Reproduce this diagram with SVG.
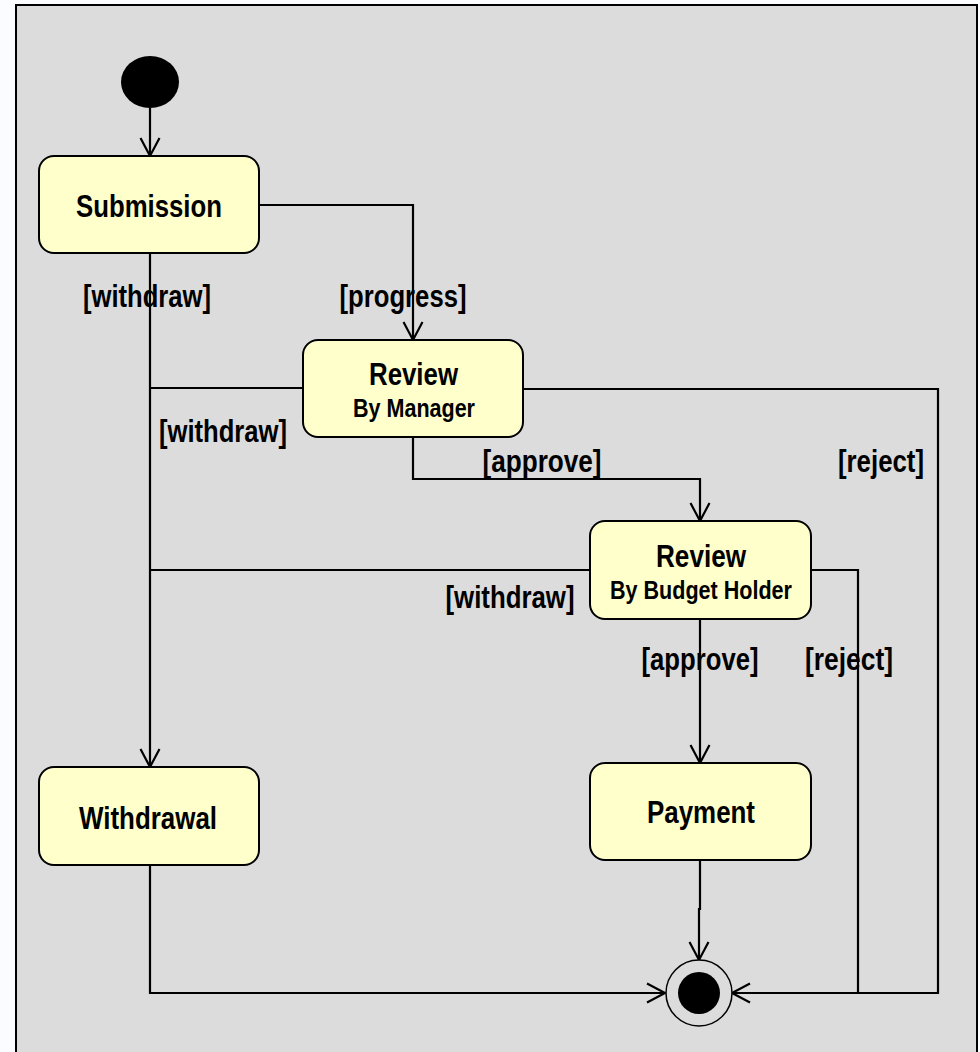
<svg xmlns="http://www.w3.org/2000/svg" width="980" height="1052" viewBox="0 0 980 1052">
  <style>
    .frame { fill: #dcdcdc; stroke: #000; stroke-width: 2; }
    .state { fill: #ffffcc; stroke: #000; stroke-width: 2; }
    .edge { fill: none; stroke: #000; stroke-width: 2.2; }
    .arrow { marker-end: url(#open); }
    text { font-family: "Liberation Sans Narrow", "Liberation Sans", Arial, sans-serif; font-weight: bold; fill: #000; text-anchor: middle; }
    .big { font-size: 31px; }
    .sub { font-size: 26px; }
  </style>
  <defs>
    <marker id="open" markerUnits="userSpaceOnUse" viewBox="-20 -12 22 24" markerWidth="22" markerHeight="24" refX="0" refY="0" orient="auto" overflow="visible">
      <path d="M-18,-9.5 L0,0 L-18,9.5" fill="none" stroke="#000" stroke-width="2.2"/>
    </marker>
  </defs>

  <rect x="0" y="0" width="980" height="1052" fill="#fafcff"/>
  <rect class="frame" x="16" y="5" width="961" height="1070"/>

  <g id="connectors">
    <path class="edge arrow" d="M150,108 V156"/>
    <path class="edge arrow" d="M259,205 H413 V340"/>
    <path class="edge arrow" d="M150,253 V767"/>
    <path class="edge" d="M303,388 H150"/>
    <path class="edge arrow" d="M523,389 H938 V993 H732"/>
    <path class="edge arrow" d="M413,437 V479 H700 V521"/>
    <path class="edge" d="M590,570 H150"/>
    <path class="edge" d="M811,570 H858 V993"/>
    <path class="edge arrow" d="M700,619 V763"/>
    <path class="edge arrow" d="M700,860 V909 H699 V960"/>
    <path class="edge arrow" d="M150,865 V993 H665"/>
  </g>

  <g id="labels">
    <text class="big" x="147" y="307" textLength="128" lengthAdjust="spacingAndGlyphs">[withdraw]</text>
    <text class="big" x="403" y="307" textLength="127" lengthAdjust="spacingAndGlyphs">[progress]</text>
    <text class="big" x="223" y="442" textLength="128" lengthAdjust="spacingAndGlyphs">[withdraw]</text>
    <text class="big" x="542" y="472" textLength="119" lengthAdjust="spacingAndGlyphs">[approve]</text>
    <text class="big" x="881" y="472" textLength="86" lengthAdjust="spacingAndGlyphs">[reject]</text>
    <text class="big" x="510" y="608" textLength="129" lengthAdjust="spacingAndGlyphs">[withdraw]</text>
    <text class="big" x="700" y="670" textLength="117" lengthAdjust="spacingAndGlyphs">[approve]</text>
    <text class="big" x="849" y="670" textLength="88" lengthAdjust="spacingAndGlyphs">[reject]</text>
  </g>

  <g id="start">
    <ellipse cx="150" cy="82" rx="29" ry="26" fill="#000"/>
  </g>

  <g id="submission">
    <rect class="state" x="39" y="156" width="220" height="97" rx="15"/>
    <text class="big" x="149" y="217" textLength="146" lengthAdjust="spacingAndGlyphs">Submission</text>
  </g>

  <g id="review-manager">
    <rect class="state" x="303" y="340" width="220" height="97" rx="15"/>
    <text class="big" x="413.5" y="385" textLength="89" lengthAdjust="spacingAndGlyphs">Review</text>
    <text class="sub" x="414" y="417" textLength="122" lengthAdjust="spacingAndGlyphs">By Manager</text>
  </g>

  <g id="review-budget-holder">
    <rect class="state" x="590" y="521" width="221" height="98" rx="15"/>
    <text class="big" x="701" y="567" textLength="90" lengthAdjust="spacingAndGlyphs">Review</text>
    <text class="sub" x="701" y="599" textLength="182" lengthAdjust="spacingAndGlyphs">By Budget Holder</text>
  </g>

  <g id="withdrawal">
    <rect class="state" x="39" y="767" width="220" height="98" rx="15"/>
    <text class="big" x="148" y="829" textLength="138" lengthAdjust="spacingAndGlyphs">Withdrawal</text>
  </g>

  <g id="payment">
    <rect class="state" x="590" y="763" width="221" height="97" rx="15"/>
    <text class="big" x="701" y="823" textLength="108" lengthAdjust="spacingAndGlyphs">Payment</text>
  </g>

  <g id="end">
    <circle cx="699" cy="993" r="33" fill="#dcdcdc" stroke="#000" stroke-width="1.5"/>
    <circle cx="699" cy="993" r="21" fill="#000"/>
  </g>
</svg>
